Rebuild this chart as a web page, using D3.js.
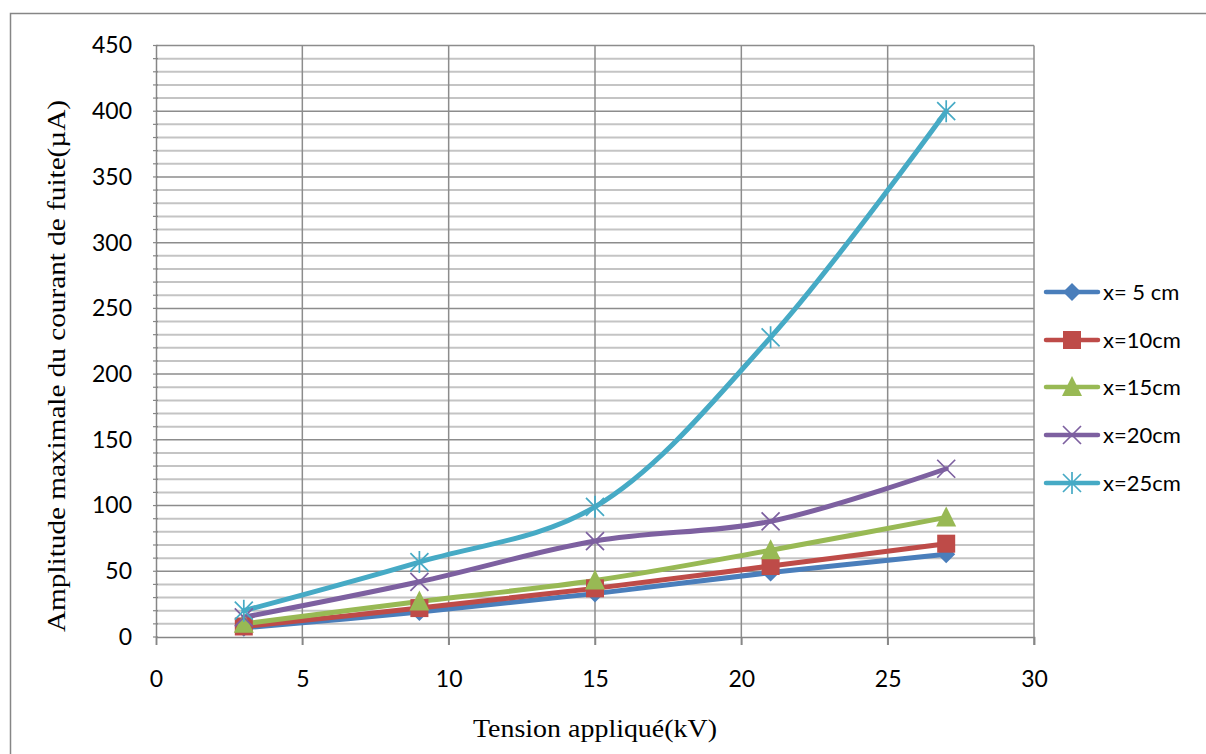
<!DOCTYPE html>
<html><head><meta charset="utf-8">
<script src="https://cdn.jsdelivr.net/npm/d3@7"></script>
<style>body{margin:0;background:#fff}svg{display:block}</style>
</head><body>
<svg id="c" width="1206" height="754"></svg>
<script>
const xValues = [3, 9, 15, 21, 27];
const seriesNames = ["x= 5 cm", "x=10cm", "x=15cm", "x=20cm", "x=25cm"];
const s5 = [7, 19, 33, 49, 63];
const s10 = [8, 22, 37, 54, 71];
const s15 = [10, 27, 43, 66, 91];
const s20 = [15, 42, 73, 88, 128];
const s25 = [20, 57, 99, 228, 400];
const xTicks = [0, 5, 10, 15, 20, 25, 30];
const yTicks = [0, 50, 100, 150, 200, 250, 300, 350, 400, 450];
const yMinor = d3.range(0, 451, 10);
const colors = ["#4A7EBB", "#BE4B48", "#98B954", "#7D60A0", "#46AAC5"];
const markers = ["diamond", "square", "triangle", "x", "star"];
const xTitle = "Tension appliqué(kV)";
const yTitle = "Amplitude maximale du courant de fuite(µA)";

const series = [s5, s10, s15, s20, s25].map((v, i) => ({
  name: seriesNames[i], color: colors[i], marker: markers[i],
  pts: v.map((y, j) => [xValues[j], y])
}));

const svg = d3.select("#c");
const L = 156, R = 1034, T = 45.5, B = 637;
const x = d3.scaleLinear().domain([0, 30]).range([L, R]);
const y = d3.scaleLinear().domain([0, 450]).range([B, T]);
const sans = "Lato, 'Open Sans', sans-serif";
const serif = "'Liberation Serif', 'DejaVu Serif', serif";

// outer frame
svg.append("rect").attr("x", 10.5).attr("y", 13.5).attr("width", 1210).attr("height", 760)
  .attr("fill", "none").attr("stroke", "#868686").attr("stroke-width", 1.5);

// minor gridlines
svg.append("g").selectAll("line").data(yMinor.filter(d => d % 50 !== 0)).join("line")
  .attr("x1", L).attr("x2", R).attr("y1", d => y(d)).attr("y2", d => y(d))
  .attr("stroke", "#c4c4c4").attr("stroke-width", 2);
// major horizontal
svg.append("g").selectAll("line").data(yTicks.filter(d => d > 0)).join("line")
  .attr("x1", L).attr("x2", R).attr("y1", d => y(d)).attr("y2", d => y(d))
  .attr("stroke", "#8c8c8c").attr("stroke-width", 1.5);
// vertical grid
svg.append("g").selectAll("line").data(xTicks.filter(d => d > 0)).join("line")
  .attr("x1", d => x(d)).attr("x2", d => x(d)).attr("y1", T).attr("y2", B + 8)
  .attr("stroke", "#8c8c8c").attr("stroke-width", 1.5);

// axes
const yAxis = d3.axisLeft(y).tickValues(yTicks).tickSize(0).tickPadding(24);
const ya = svg.append("g").attr("transform", `translate(${L},0)`).call(yAxis);
ya.select(".domain").attr("stroke", "#868686").attr("stroke-width", 1.5);
ya.selectAll("text").attr("font-family", sans).attr("font-size", 23).attr("fill", "#000");
// y minor tick marks
svg.append("g").selectAll("line").data(yMinor).join("line")
  .attr("x1", L - 3).attr("x2", L + 2).attr("y1", d => y(d)).attr("y2", d => y(d))
  .attr("stroke", "#868686").attr("stroke-width", 1.2);

const xAxis = d3.axisBottom(x).tickValues(xTicks).tickSize(8).tickPadding(26);
const xa = svg.append("g").attr("transform", `translate(0,${B})`).call(xAxis);
xa.select(".domain").attr("stroke", "#868686").attr("stroke-width", 1.5);
xa.selectAll(".tick line").attr("stroke", "#868686").attr("stroke-width", 1.5);
xa.selectAll("text").attr("font-family", sans).attr("font-size", 23).attr("fill", "#000");

// titles
svg.append("text").attr("x", 595).attr("y", 737).attr("text-anchor", "middle")
  .attr("font-family", serif).attr("font-size", 26)
  .attr("textLength", 244).attr("lengthAdjust", "spacingAndGlyphs").text(xTitle);
svg.append("text").attr("transform", "translate(65,366) rotate(-90)").attr("text-anchor", "middle")
  .attr("font-family", serif).attr("font-size", 26)
  .attr("textLength", 532).attr("lengthAdjust", "spacingAndGlyphs").text(yTitle);

function drawMarker(g, type, color) {
  if (type === "diamond") {
    g.append("path").attr("d", "M0,-9L9,0L0,9L-9,0Z").attr("fill", color);
  } else if (type === "square") {
    g.append("rect").attr("x", -9).attr("y", -9).attr("width", 18).attr("height", 18).attr("fill", color);
  } else if (type === "triangle") {
    g.append("path").attr("d", "M0,-11L10,9L-10,9Z").attr("fill", color);
  } else if (type === "x") {
    g.append("path").attr("d", "M-9,-9L9,9M-9,9L9,-9").attr("stroke", color).attr("stroke-width", 1.7).attr("fill", "none");
  } else if (type === "star") {
    g.append("path").attr("d", "M-9,-9L9,9M-9,9L9,-9M0,-11L0,11").attr("stroke", color).attr("stroke-width", 1.7).attr("fill", "none");
  }
}

const line = d3.line().x(d => x(d[0])).y(d => y(d[1])).curve(d3.curveCatmullRom.alpha(0.5));
const plot = svg.append("g");
series.forEach(s => {
  plot.append("path").attr("d", line(s.pts)).attr("fill", "none")
    .attr("stroke", s.color).attr("stroke-width", 5).attr("stroke-linecap", "round");
});
series.forEach(s => {
  s.pts.forEach(p => {
    const g = plot.append("g").attr("transform", `translate(${x(p[0])},${y(p[1])})`);
    drawMarker(g, s.marker, s.color);
  });
});

// legend
const legY = [292, 340, 387, 435, 483];
series.forEach((s, i) => {
  const g = svg.append("g").attr("transform", `translate(0,${legY[i]})`);
  g.append("line").attr("x1", 1046).attr("x2", 1098).attr("y1", 0).attr("y2", 0)
    .attr("stroke", s.color).attr("stroke-width", 4.5).attr("stroke-linecap", "round");
  const m = g.append("g").attr("transform", "translate(1072,0)");
  drawMarker(m, s.marker, s.color);
  g.append("text").attr("x", 1103).attr("y", 8).attr("font-family", sans)
    .attr("font-size", 22).attr("fill", "#000").text(s.name);
});
</script>
</body></html>
